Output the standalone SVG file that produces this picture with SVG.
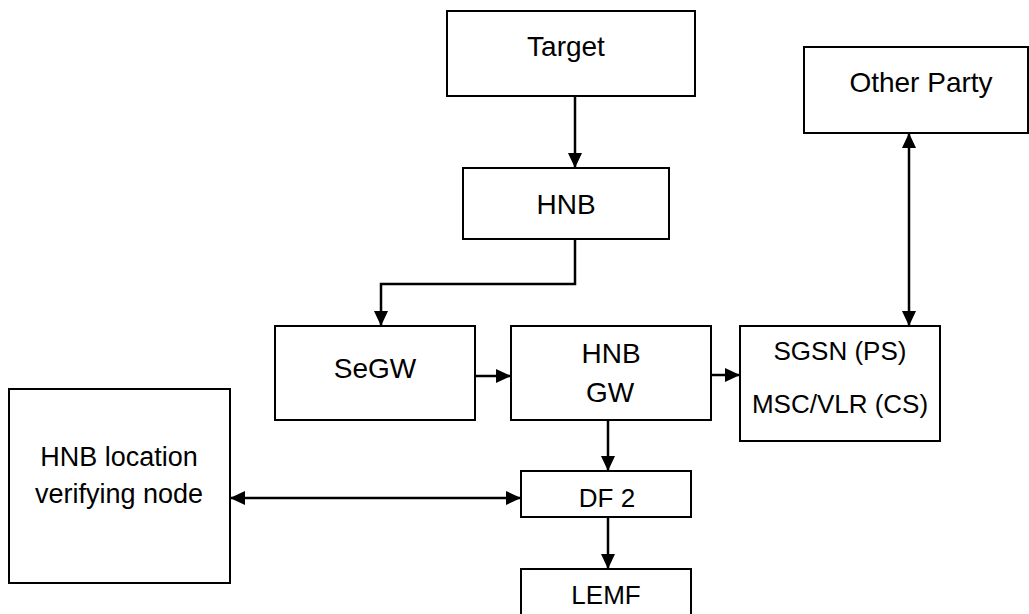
<svg xmlns="http://www.w3.org/2000/svg" width="1029" height="614" viewBox="0 0 1029 614">
<style>
.box{fill:#fff;stroke:#000;stroke-width:2}
.t{font-family:"Liberation Sans",Arial,sans-serif;fill:#000;text-anchor:middle}
.c{fill:none;stroke:#000;stroke-width:2.5}
</style>
<defs>
<marker id="ah" markerUnits="userSpaceOnUse" markerWidth="16" markerHeight="16" viewBox="0 0 16 16" refX="15" refY="8" orient="auto-start-reverse">
<path d="M0,1 L15,8 L0,15 Z" fill="#000"/>
</marker>
</defs>
<rect width="1029" height="614" fill="#fff"/>
<g id="connectors">
<line class="c" x1="575" y1="96" x2="575" y2="168" marker-end="url(#ah)"/>
<polyline class="c" points="575,239 575,284 381,284 381,326" marker-end="url(#ah)"/>
<line class="c" x1="475" y1="376" x2="511" y2="376" marker-end="url(#ah)"/>
<line class="c" x1="711" y1="375" x2="740" y2="375" marker-end="url(#ah)"/>
<line class="c" x1="909" y1="133" x2="909" y2="326" marker-start="url(#ah)" marker-end="url(#ah)"/>
<line class="c" x1="608" y1="420" x2="608" y2="471" marker-end="url(#ah)"/>
<line class="c" x1="608" y1="517" x2="608" y2="569" marker-end="url(#ah)"/>
<line class="c" x1="230" y1="498" x2="521" y2="498" marker-start="url(#ah)" marker-end="url(#ah)"/>
</g>
<g id="target">
<rect class="box" x="447" y="11" width="248" height="85"/>
<text class="t" x="566" y="56" font-size="28">Target</text>
</g>
<g id="hnb">
<rect class="box" x="463" y="168" width="206" height="71"/>
<text class="t" x="566" y="214" font-size="28">HNB</text>
</g>
<g id="segw">
<rect class="box" x="275" y="326" width="200" height="94"/>
<text class="t" x="375" y="378" font-size="28">SeGW</text>
</g>
<g id="hnbgw">
<rect class="box" x="511" y="326" width="200" height="94"/>
<text class="t" x="611" y="363" font-size="28">HNB</text>
<text class="t" x="610" y="402" font-size="28">GW</text>
</g>
<g id="sgsn">
<rect class="box" x="740" y="326" width="200" height="115"/>
<text class="t" x="840" y="360" font-size="26">SGSN (PS)</text>
<text class="t" x="840" y="413" font-size="26">MSC/VLR (CS)</text>
</g>
<g id="otherparty">
<rect class="box" x="804" y="47" width="224" height="86"/>
<text class="t" x="921" y="92" font-size="28">Other Party</text>
</g>
<g id="hnblocation">
<rect class="box" x="9" y="389" width="221" height="194"/>
<text class="t" x="119" y="466" font-size="27">HNB location</text>
<text class="t" x="119" y="503" font-size="27">verifying node</text>
</g>
<g id="df2">
<rect class="box" x="521" y="471" width="170" height="46"/>
<text class="t" x="607" y="507" font-size="26">DF 2</text>
</g>
<g id="lemf">
<rect class="box" x="521" y="569" width="170" height="60"/>
<text class="t" x="606" y="604" font-size="26">LEMF</text>
</g>
</svg>
